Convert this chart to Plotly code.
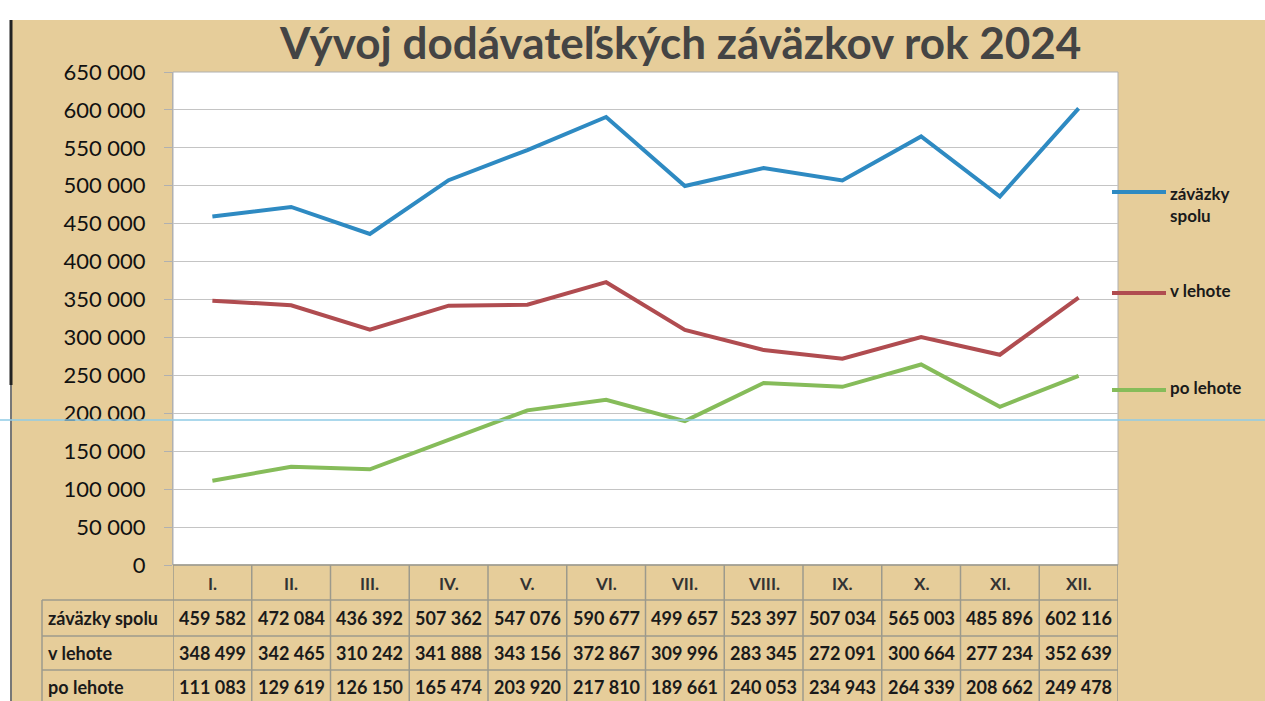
import plotly.graph_objects as go

# ---- data ----
months = ["I.", "II.", "III.", "IV.", "V.", "VI.", "VII.", "VIII.", "IX.", "X.", "XI.", "XII."]
series_names = ["záväzky spolu", "v lehote", "po lehote"]
legend_labels = ["záväzky<br>spolu", "v lehote", "po lehote"]
zavazky_spolu = [459582, 472084, 436392, 507362, 547076, 590677, 499657, 523397, 507034, 565003, 485896, 602116]
v_lehote = [348499, 342465, 310242, 341888, 343156, 372867, 309996, 283345, 272091, 300664, 277234, 352639]
po_lehote = [111083, 129619, 126150, 165474, 203920, 217810, 189661, 240053, 234943, 264339, 208662, 249478]
colors = ["#2E8AC2", "#B04C50", "#86BC5A"]
title = "Vývoj dodávateľských záväzkov rok 2024"

W, H = 1265, 701
L, R, T, B = 173, 1118, 72, 565  # plot area in pixels
PW, PH = R - L, B - T

def px(xp):
    return (xp - L) / PW

def py(yp):
    return (B - yp) / PH

all_series = [zavazky_spolu, v_lehote, po_lehote]
xs = list(range(len(months)))

fig = go.Figure()
for name, vals, col in zip(series_names, all_series, colors):
    fig.add_trace(go.Scatter(x=xs, y=vals, mode="lines", name=name,
                             line=dict(color=col, width=4), showlegend=False))

shapes = []
ann = []
TAN = "#E6CD9A"
GRID_T = "#9C9A8C"

# tan background
shapes.append(dict(type="rect", xref="paper", yref="paper", x0=px(12), x1=px(W + 5), y0=py(20), y1=py(H + 5),
                   fillcolor=TAN, line=dict(width=0), layer="below"))
# scan edge line
shapes.append(dict(type="line", xref="paper", yref="paper", x0=px(11), x1=px(11), y0=py(20), y1=py(385),
                   line=dict(color="#222", width=3)))
shapes.append(dict(type="line", xref="paper", yref="paper", x0=px(11), x1=px(11), y0=py(385), y1=py(H),
                   line=dict(color="#777", width=2)))
# white plot area
shapes.append(dict(type="rect", xref="paper", yref="paper", x0=0, x1=1, y0=0, y1=1,
                   fillcolor="white", line=dict(color="#B0B0B0", width=1), layer="below"))

# table horizontal lines
for yp in [600, 636, 670]:
    shapes.append(dict(type="line", xref="paper", yref="paper", x0=px(42), x1=1, y0=py(yp), y1=py(yp),
                       line=dict(color=GRID_T, width=1.5)))
shapes.append(dict(type="line", xref="paper", yref="paper", x0=0, x1=1, y0=0, y1=0,
                   line=dict(color=GRID_T, width=1.5)))
# table vertical lines
for i in range(len(months) + 1):
    shapes.append(dict(type="line", xref="x", yref="paper", x0=i - 0.5, x1=i - 0.5, y0=0, y1=py(H + 5),
                       line=dict(color=GRID_T, width=1.5)))
shapes.append(dict(type="line", xref="paper", yref="paper", x0=px(42), x1=px(42), y0=py(600), y1=py(H + 5),
                   line=dict(color=GRID_T, width=1.5)))

# scan artifact blue line
shapes.append(dict(type="line", xref="paper", yref="paper", x0=px(0), x1=px(W), y0=py(420), y1=py(420),
                   line=dict(color="#8FCBE6", width=1.5), layer="above"))

TXT = "#1A1A1A"
# month header
for i, m in enumerate(months):
    ann.append(dict(x=i, y=py(583), xref="x", yref="paper", text=m, showarrow=False,
                    font=dict(family="Lato", size=17, color="#333", weight="bold"), xanchor="center", yanchor="middle"))
# table rows
row_y = [618, 653, 687]
for name, vals, yp in zip(series_names, all_series, row_y):
    ann.append(dict(x=px(46), y=py(yp), xref="paper", yref="paper", text=name, showarrow=False,
                    font=dict(family="Lato", size=18, color=TXT, weight="bold"), xanchor="left", yanchor="middle"))
    for i, v in enumerate(vals):
        ann.append(dict(x=i, y=py(yp), xref="x", yref="paper", text=f"{v:,}".replace(",", " "),
                        showarrow=False, font=dict(family="Lato", size=18, color=TXT, weight="bold"),
                        xanchor="center", yanchor="middle"))

# custom legend
leg_y = [192, 293, 390]
for lab, col, yp in zip(legend_labels, colors, leg_y):
    shapes.append(dict(type="line", xref="paper", yref="paper", x0=px(1112), x1=px(1166), y0=py(yp), y1=py(yp),
                       line=dict(color=col, width=4)))
    ann.append(dict(x=px(1168), y=py(yp - 3), xref="paper", yref="paper", text=lab, showarrow=False,
                    font=dict(family="Lato", size=17, color=TXT, weight="bold"), xanchor="left",
                    yanchor="top" if "<br>" in lab else "middle", align="left"))
# adjust first legend label to start at top of line
ann[-3]["y"] = py(181)

# title
ann.append(dict(x=px(680), y=py(42), xref="paper", yref="paper", text=title, showarrow=False,
                font=dict(family="Lato", size=44, color="#444444", weight="bold"), xanchor="center", yanchor="middle"))

fig.update_layout(
    width=W, height=H,
    margin=dict(l=L, r=W - R, t=T, b=H - B),
    paper_bgcolor="white", plot_bgcolor="white",
    separators=", ",
    shapes=shapes, annotations=ann,
    xaxis=dict(range=[-0.5, len(months) - 0.5], showticklabels=False, showgrid=False, zeroline=False,
               showline=False, fixedrange=True),
    yaxis=dict(range=[0, 650000], dtick=50000, tickformat=",d", showgrid=True, gridcolor="#C4C4C4",
               gridwidth=1, zeroline=False, ticks="outside", ticklen=8, tickcolor="#B0B0B0",
               ticklabelstandoff=14, showline=True, linecolor="#B0B0B0",
               tickfont=dict(family="Lato", size=22, color="#111111")),
    showlegend=False,
)

fig.write_html("out.html", config={"displayModeBar": False},
               post_script="document.body.style.margin='0';document.body.style.overflow='hidden';")
